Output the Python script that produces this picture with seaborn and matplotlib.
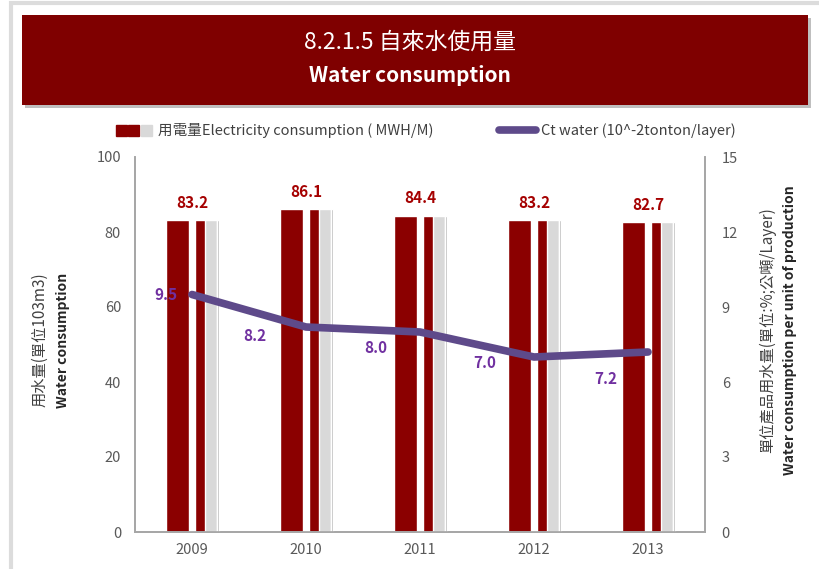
import numpy as np
import pandas as pd
import matplotlib
matplotlib.use('Agg')
import matplotlib.pyplot as plt
import seaborn as sns
from matplotlib.patches import Patch, Rectangle
from matplotlib.lines import Line2D
from matplotlib.legend_handler import HandlerTuple

# données
years = ['2009', '2010', '2011', '2012', '2013']
water_use = [83.2, 86.1, 84.4, 83.2, 82.7]
ct_water = [9.5, 8.2, 8.0, 7.0, 7.2]

# décalage des étiquettes de la courbe (comme dans l'original)
lbl_dx = [-0.23, -0.45, -0.39, -0.43, -0.37]
lbl_dy = [0.0, -0.36, -0.64, -0.24, -1.08]

sns.set_theme(style='white')
plt.rcParams['font.family'] = ['Noto Sans CJK TC', 'DejaVu Sans']

RED = '#8B0000'
GRAY = '#D9D9D9'
PURPLE = '#5E4A8A'
TXT = '#595959'

df = pd.DataFrame({'year': years, 'water': water_use, 'ct': ct_water})

fig = plt.figure(figsize=(8.19, 5.69), dpi=100)
fig.patch.set_facecolor('white')

# cadre gris + bandeau titre
fig.patches.append(Rectangle((11/819, -0.05), 1.0, 1.045, transform=fig.transFigure,
                             fill=False, edgecolor='#DCDCDC', lw=3, zorder=0))
fig.patches.append(Rectangle((25/819, 1-108/569), 786/819, 90/569, transform=fig.transFigure,
                             facecolor='#BFBFBF', edgecolor='none', zorder=1))
fig.patches.append(Rectangle((22/819, 1-105/569), 786/819, 90/569, transform=fig.transFigure,
                             facecolor='#7F0000', edgecolor='none', zorder=2))
fig.text(0.5, 1-42/569, '8.2.1.5 自來水使用量', color='white', fontsize=16.5,
         ha='center', va='center', zorder=3)
fig.text(0.5, 1-75/569, 'Water consumption', color='white', fontsize=15,
         fontweight='bold', ha='center', va='center', zorder=3)

ax = fig.add_axes([135/819, 1-532/569, 570/819, 375/569])

# barres principales
sns.barplot(data=df, x='year', y='water', color=RED, width=0.46, saturation=1, ax=ax, zorder=2)
pos = np.arange(len(years))
ax.bar(pos + 0.0, water_use, width=0.052, color='white', zorder=3)
ax.bar(pos + 0.17, water_use, width=0.105, color=GRAY, zorder=3)
ax.bar(pos + 0.227, water_use, width=0.012, color='#B0B0B0', zorder=3)

for i, v in enumerate(water_use):
    ax.text(i, v + 2.5, f'{v:.1f}', ha='center', va='bottom', color='#A50000',
            fontsize=11, fontweight='bold')

ax.set_ylim(0, 100)
ax.set_xlim(-0.5, 4.5)
ax.set_yticks(range(0, 101, 20))
ax.set_xlabel('')
ax.set_ylabel('')
ax.tick_params(axis='both', colors=TXT, labelsize=10.5, length=0, pad=10)
ax.tick_params(axis='x', pad=8)
for s in ['left', 'bottom', 'right']:
    ax.spines[s].set_color('#A6A6A6')
ax.spines['top'].set_visible(False)

# axe secondaire
ax2 = ax.twinx()
sns.lineplot(x=pos, y=ct_water, color=PURPLE, linewidth=5.5, ax=ax2, zorder=4)
for i, v in enumerate(ct_water):
    ax2.text(i + lbl_dx[i], v + lbl_dy[i], f'{v:.1f}', ha='center', va='center',
             color='#7030A0', fontsize=11, fontweight='bold')
ax2.set_ylim(0, 15)
ax2.set_yticks(range(0, 16, 3))
ax2.tick_params(axis='y', colors=TXT, labelsize=10.5, length=0, pad=12)
for s in ['left', 'bottom', 'right']:
    ax2.spines[s].set_color('#A6A6A6')
ax2.spines['top'].set_visible(False)
ax2.grid(False)
ax.grid(False)

# étiquettes des axes
fig.text(40/819, 1-340/569, '用水量(單位103m3)', rotation=90, ha='center', va='center',
         fontsize=11, color='#404040')
fig.text(63/819, 1-340/569, 'Water consumption', rotation=90, ha='center', va='center',
         fontsize=10, fontweight='bold', color='#262626')
fig.text(768/819, 1-330/569, '單位產品用水量(單位:%;公噸/Layer)', rotation=90, ha='center',
         va='center', fontsize=11, color='#404040')
fig.text(790/819, 1-330/569, 'Water consumption per unit of production', rotation=90,
         ha='center', va='center', fontsize=10, fontweight='bold', color='#262626')

# légende
h_bar = (Patch(color=RED), Patch(color=RED), Patch(color=GRAY))
h_line = Line2D([0], [0], color=PURPLE, lw=5.5)
fig.legend([h_bar, h_line],
           ['用電量Electricity consumption ( MWH/M)', 'Ct water (10^-2tonton/layer)'],
           handler_map={tuple: HandlerTuple(ndivide=None, pad=0.1)},
           loc='center', bbox_to_anchor=(0.52, 1-131/569), ncol=2, frameon=False,
           fontsize=10.5, labelcolor='#404040', columnspacing=4.5, handlelength=2.5,
           handletextpad=0.4)

plt.savefig('out.png', dpi=100)
